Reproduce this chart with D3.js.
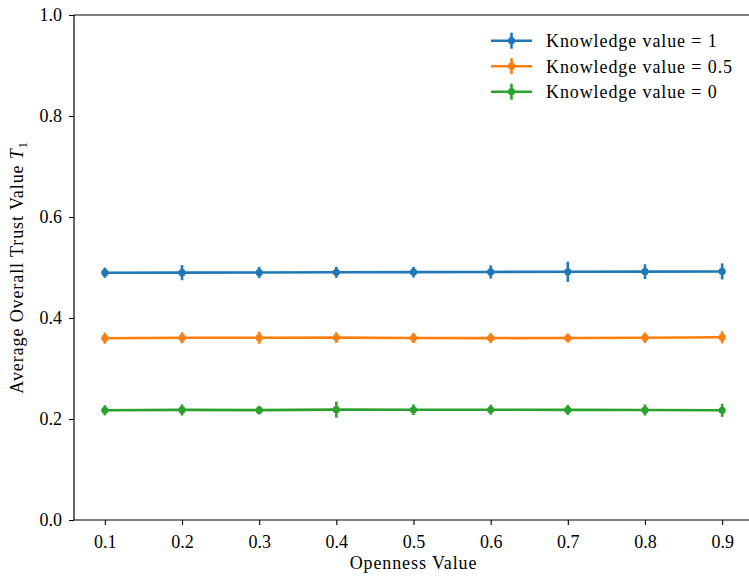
<!DOCTYPE html>
<html>
<head>
<meta charset="utf-8">
<script src="https://cdn.jsdelivr.net/npm/d3@7"></script>
</head>
<body style="margin:0;background:#fff">
<svg id="chart" width="749" height="581"></svg>
<script>
// Openness values on the x axis
const openness = [0.1, 0.2, 0.3, 0.4, 0.5, 0.6, 0.7, 0.8, 0.9];

// Mean trust T1 and its spread for each knowledge level
const trustK1  = [0.4897, 0.4898, 0.4900, 0.4905, 0.4908, 0.4912, 0.4915, 0.4918, 0.4922];
const errK1    = [0.010, 0.015, 0.011, 0.011, 0.0105, 0.013, 0.020, 0.0145, 0.016];
const trustK05 = [0.3600, 0.3608, 0.3610, 0.3612, 0.3603, 0.3602, 0.3604, 0.3610, 0.3618];
const errK05   = [0.011, 0.011, 0.012, 0.0105, 0.010, 0.010, 0.009, 0.0105, 0.012];
const trustK0  = [0.2172, 0.2180, 0.2175, 0.2185, 0.2183, 0.2183, 0.2180, 0.2178, 0.2172];
const errK0    = [0.010, 0.011, 0.0085, 0.016, 0.0105, 0.010, 0.010, 0.011, 0.013];

const seriesNames = ["Knowledge value = 1", "Knowledge value = 0.5", "Knowledge value = 0"];
const xTicks = [0.1, 0.2, 0.3, 0.4, 0.5, 0.6, 0.7, 0.8, 0.9];
const yTicks = [0.0, 0.2, 0.4, 0.6, 0.8, 1.0];

const colors = ["#1f77b4", "#ff7f0e", "#2ca02c"];
const series = [
  { name: seriesNames[0], y: trustK1,  err: errK1,  color: colors[0] },
  { name: seriesNames[1], y: trustK05, err: errK05, color: colors[1] },
  { name: seriesNames[2], y: trustK0,  err: errK0,  color: colors[2] }
];

const FONT = '"Liberation Serif", "Times New Roman", serif';
const svg = d3.select("#chart");
const plot = { left: 74, right: 753, top: 15, bottom: 520 };

const x = d3.scaleLinear().domain([0.06, 0.94]).range([plot.left, plot.right]);
const y = d3.scaleLinear().domain([0, 1]).range([plot.bottom, plot.top]);

// Axes
const xAxis = svg.append("g")
  .attr("transform", `translate(0,${plot.bottom})`)
  .call(d3.axisBottom(x).tickValues(xTicks).tickFormat(d3.format(".1f")).tickSize(5).tickPadding(7));
const yAxis = svg.append("g")
  .attr("transform", `translate(${plot.left},0)`)
  .call(d3.axisLeft(y).tickValues(yTicks).tickFormat(d3.format(".1f")).tickSize(5).tickPadding(7));

[xAxis, yAxis].forEach(g => {
  g.select(".domain").remove();
  g.selectAll(".tick line").attr("stroke", "#000").attr("stroke-width", 1.1);
  g.selectAll(".tick text")
    .style("font-family", FONT)
    .style("font-size", "18px")
    .attr("fill", "#000");
});
xAxis.selectAll(".tick text").attr("y", 28).attr("dy", 0);

// Spines
const spines = svg.append("g").attr("stroke", "#000").attr("stroke-width", 1.2).attr("fill", "none");
spines.append("line").attr("x1", plot.left).attr("x2", plot.left).attr("y1", plot.top).attr("y2", plot.bottom);
spines.append("line").attr("x1", plot.left).attr("x2", plot.right).attr("y1", plot.bottom).attr("y2", plot.bottom);
spines.append("line").attr("x1", plot.left).attr("x2", plot.right).attr("y1", plot.top).attr("y2", plot.top);
spines.append("line").attr("x1", plot.right).attr("x2", plot.right).attr("y1", plot.top).attr("y2", plot.bottom);

// Axis titles
svg.append("text")
  .attr("x", (plot.left + plot.right) / 2)
  .attr("y", 569)
  .attr("text-anchor", "middle")
  .style("font-family", FONT)
  .style("font-size", "18px")
  .style("letter-spacing", "0.9px")
  .text("Openness Value");

const yTitle = svg.append("text")
  .attr("transform", `translate(23,${(plot.top + plot.bottom) / 2}) rotate(-90)`)
  .attr("text-anchor", "middle")
  .style("font-family", FONT)
  .style("font-size", "18px")
  .style("letter-spacing", "0.9px");
yTitle.append("tspan").text("Average Overall Trust Value ");
yTitle.append("tspan").style("font-style", "italic").text("T");
yTitle.append("tspan").attr("dy", "0.3em").style("font-size", "12px").text("1");

// Series: line, error bars, markers
const line = d3.line().x((d, i) => x(openness[i])).y(d => y(d));
series.forEach(s => {
  const g = svg.append("g");
  g.append("path")
    .datum(s.y)
    .attr("d", line)
    .attr("fill", "none")
    .attr("stroke", s.color)
    .attr("stroke-width", 2.6);
  g.selectAll("line.err")
    .data(s.y)
    .join("line")
    .attr("class", "err")
    .attr("x1", (d, i) => x(openness[i]))
    .attr("x2", (d, i) => x(openness[i]))
    .attr("y1", (d, i) => y(d - s.err[i]))
    .attr("y2", (d, i) => y(d + s.err[i]))
    .attr("stroke", s.color)
    .attr("stroke-width", 2.6);
  g.selectAll("circle")
    .data(s.y)
    .join("circle")
    .attr("cx", (d, i) => x(openness[i]))
    .attr("cy", d => y(d))
    .attr("r", 3.6)
    .attr("fill", s.color);
});

// Legend
const legend = svg.append("g");
series.forEach((s, i) => {
  const ly = 40.7 + i * 25.5;
  const row = legend.append("g");
  row.append("line").attr("x1", 491).attr("x2", 532).attr("y1", ly).attr("y2", ly)
    .attr("stroke", s.color).attr("stroke-width", 2.6);
  row.append("line").attr("x1", 511.5).attr("x2", 511.5).attr("y1", ly - 8).attr("y2", ly + 8)
    .attr("stroke", s.color).attr("stroke-width", 2.6);
  row.append("circle").attr("cx", 511.5).attr("cy", ly).attr("r", 3.6).attr("fill", s.color);
  row.append("text").attr("x", 546).attr("y", ly).attr("dy", "0.35em")
    .style("font-family", FONT)
    .style("font-size", "18px")
    .style("letter-spacing", "0.9px")
    .text(s.name);
});
</script>
</body>
</html>
